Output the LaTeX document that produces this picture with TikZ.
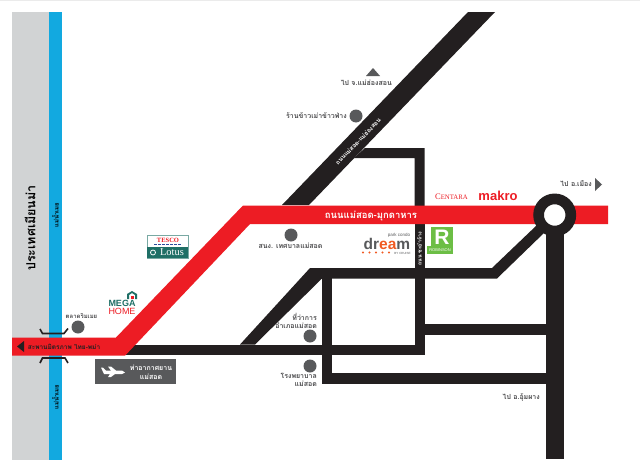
\documentclass[tikz,border=0pt]{standalone}
\usepackage{fontspec}
\newfontfamily\thai[Script=Thai]{Loma}
\setsansfont{Liberation Sans}
\setmainfont{Liberation Serif}
\begin{document}
\begin{tikzpicture}[x=1pt,y=-1pt,
  road/.style={fill=roadblack,draw=none},
  spot/.style={circle,fill=spotgray,draw=none,minimum size=13pt,inner sep=0pt},
  lbl/.style={font=\thai\bfseries\fontsize{7}{8}\selectfont,text=labelgray,align=center,inner sep=0pt},
  wlbl/.style={font=\thai\bfseries\fontsize{6.5}{7}\selectfont,text=white,inner sep=0pt},
  brk/.style={draw=roadblack,line width=1.6pt,fill=none}]
\definecolor{roadblack}{HTML}{231F20}
\definecolor{spotgray}{HTML}{58595B}
\definecolor{labelgray}{HTML}{4A4A4C}
\definecolor{landgray}{HTML}{D1D3D4}
\definecolor{riverblue}{HTML}{12A9E0}
\definecolor{redroad}{HTML}{ED1C24}
\definecolor{lotusgreen}{HTML}{1F6F66}
\definecolor{robgreen}{HTML}{6CBE45}
\definecolor{dreamorange}{HTML}{F15A22}
\definecolor{tescoblue}{HTML}{2B4C9B}
\useasboundingbox (0,0) rectangle (640,471);
\fill[white] (0,0) rectangle (640,471);
\fill[black!8] (0,0) rectangle (640,1);
\fill[landgray] (12,12) rectangle (49,460);
\fill[riverblue] (49,12) rectangle (62,460);
% black roads
\fill[road] (282,205) -- (468,12) -- (495,12) -- (309,205) -- cycle;
\fill[road] (365,148) -- (424.5,148) -- (424.5,210) -- (414.5,210) -- (414.5,158) -- (354,158) -- cycle;
\fill[road] (414.5,210) rectangle (424.5,355);
\fill[road] (310,268) -- (492,268) -- (537,225) -- (545,232) -- (497,278.5) -- (322,278.5) -- (255,344.5) -- (240,344.5) -- cycle;
\fill[road] (125,344.5) rectangle (424.5,355);
\fill[road] (322,268) rectangle (332,384);
\fill[road] (322,373) rectangle (546,384);
\fill[road] (424,324) rectangle (546,335);
\fill[road] (546,215) rectangle (564,459);
% red road
\fill[redroad] (12,337.5) -- (116,337.5) -- (243,205.5) -- (608,205.5) -- (608,224) -- (250,224) -- (125,355.7) -- (12,355.7) -- cycle;
\node[circle,draw=roadblack,line width=10.7pt,fill=white,minimum size=32.2pt,inner sep=0pt] (rbt) at (554.7,215) {};
% river and land labels
\node[font=\thai\bfseries\fontsize{12.5}{14}\selectfont,rotate=90,inner sep=0pt] (myan) at (30,228) {ประเทศเมียนม่า};
\node[font=\thai\bfseries\fontsize{6}{6}\selectfont,rotate=90,inner sep=0pt] (r1) at (55.5,215) {แม่น้ำเมย};
\node[font=\thai\bfseries\fontsize{6}{6}\selectfont,rotate=90,inner sep=0pt] (r2) at (55.5,397) {แม่น้ำเมย};
% bridge
\fill[roadblack] (17,346.5) -- (24,341) -- (24,352) -- cycle;
\node[wlbl,text=roadblack] (bridge) at (64,346.5) {สะพานมิตรภาพ ไทย-พม่า};
\draw[brk] (40,329) -- (42.5,333.5) -- (64,333.5) -- (68,328.5);
\draw[brk] (40,363) -- (42.5,358) -- (65,358) -- (68,363);
% places
\node[spot] (s1) at (78,327) {};
\node[lbl,font=\thai\bfseries\fontsize{6}{7}\selectfont] (l1) at (81.5,316) {ตลาดริมเมย};
\node[spot] (s2) at (356,116) {};
\node[lbl,anchor=east] (l2) at (347,116) {ร้านข้าวเม่าข้าวฟ่าง};
\node[spot] (s3) at (291,235) {};
\node[lbl] (l3) at (290.5,246) {สนง. เทศบาลแม่สอด};
\node[spot] (s4) at (310,336) {};
\node[lbl,align=right,anchor=south east] (l4) at (317,329) {ที่ว่าการ\\อำเภอแม่สอด};
\node[spot] (s5) at (310,366) {};
\node[lbl,align=right,anchor=north east] (l5) at (317,373) {โรงพยาบาล\\แม่สอด};
% airport
\node[fill=spotgray,minimum width=81pt,minimum height=25pt,inner sep=0pt] (plane) at (135.5,371.5) {};
\node[font=\thai\bfseries\fontsize{7}{9}\selectfont,text=white,align=center,inner sep=0pt] (planet) at (151,372) {ท่าอากาศยาน\\แม่สอด};
\fill[white] (101,367.5) -- (103,367.5) -- (106,370.5) -- (111,370.5) -- (108,366.5) -- (111,366.5) -- (116,370.5) -- (122,370.5) -- (125,372.5) -- (122,374) -- (115,374) -- (111,377) -- (108,377) -- (110,374) -- (104,374) -- cycle;
% directions
\fill[spotgray] (373,68) -- (380,76) -- (366,76) -- cycle;
\node[lbl,anchor=east] (l6) at (392,83) {ไป จ.แม่ฮ่องสอน};
\fill[spotgray] (595,178) -- (602,184.5) -- (595,191) -- cycle;
\node[lbl,anchor=east] (l7) at (592,184) {ไป อ.เมือง};
\node[lbl,anchor=east] (l8) at (540,397) {ไป อ.อุ้มผาง};
% road names
\node[wlbl,font=\thai\bfseries\fontsize{9.5}{10}\selectfont] (m) at (371,216) {ถนนแม่สอด-มุกดาหาร};
\node[wlbl,rotate=46,font=\thai\bfseries\fontsize{6}{6}\selectfont] (h) at (358,141.5) {ถนนแม่สอด-แม่ฮ่องสอน};
\node[wlbl,rotate=90,font=\thai\bfseries\fontsize{5.3}{6}\selectfont] (c) at (419.5,249) {ถนน ชะอำจ้าง};
% Tesco Lotus
\node[draw=lotusgreen!60,line width=.5pt,minimum width=41pt,minimum height=23pt,inner sep=0pt] (tesco) at (167.5,246.5) {};
\fill[lotusgreen] (147,247) rectangle (188,258);
\node[font=\rmfamily\bfseries\fontsize{6.5}{6}\selectfont,text=redroad,inner sep=0pt] (t1) at (168,240) {TESCO};
\draw[tescoblue,line width=1pt,dash pattern=on 3pt off 1pt] (154,244.7) -- (182,244.7);
\draw[white,line width=.8pt] (153,252.5) circle (2.5pt);
\node[font=\rmfamily\fontsize{10.5}{10}\selectfont,text=white,inner sep=0pt] (t2) at (172,252.5) {Lotus};
% Mega Home
\node[font=\sffamily\bfseries\fontsize{9}{9}\selectfont,text=lotusgreen,inner sep=0pt] (mg) at (122,303) {MEGA};
\node[font=\sffamily\fontsize{9}{9}\selectfont,text=redroad,inner sep=0pt] (hm) at (122,311) {HOME};
\fill[lotusgreen] (127,299) -- (127,294) -- (132,291) -- (137,294) -- (137,299) -- (135,299) -- (135,295) -- (132,293) -- (129,295) -- (129,299) -- cycle;
\fill[redroad] (131,295.5) rectangle (134,299);
% Dream
\node[font=\sffamily\bfseries\fontsize{15.5}{15}\selectfont,text=spotgray,inner sep=0pt,anchor=base] (dr) at (387,249) {dr\textcolor{dreamorange}{ea}m};
\node[font=\sffamily\fontsize{4.5}{4}\selectfont,text=spotgray,inner sep=0pt] (pc) at (399,235.5) {park condo};
\node[font=\sffamily\fontsize{3}{3}\selectfont,text=spotgray,inner sep=0pt] (by) at (402.5,253) {BY CRUISE};
\foreach \i in {363,369.5,376,382.5,389} \fill[dreamorange] (\i,252.5) circle (1.2pt);
% Robinson
\fill[robgreen] (431,227) rectangle (453,254);
\fill[robgreen] (427,246) rectangle (453,254);
\node[font=\sffamily\bfseries\fontsize{21}{21}\selectfont,text=white,inner sep=0pt] (rb) at (442,237) {R};
\node[font=\sffamily\fontsize{4}{4}\selectfont,text=white,inner sep=0pt] (rbn) at (440,250.5) {ROBINSON};
% Centara, Makro
\node[font=\rmfamily\fontsize{7}{7}\selectfont,text=redroad,inner sep=0pt] (cen) at (451.5,197) {\fontsize{8.5}{8}\selectfont C\fontsize{6.8}{7}\selectfont ENTARA};
\node[font=\sffamily\bfseries\fontsize{13}{13}\selectfont,text=redroad,inner sep=0pt] (mak) at (498,196) {makro};
\end{tikzpicture}
\end{document}
